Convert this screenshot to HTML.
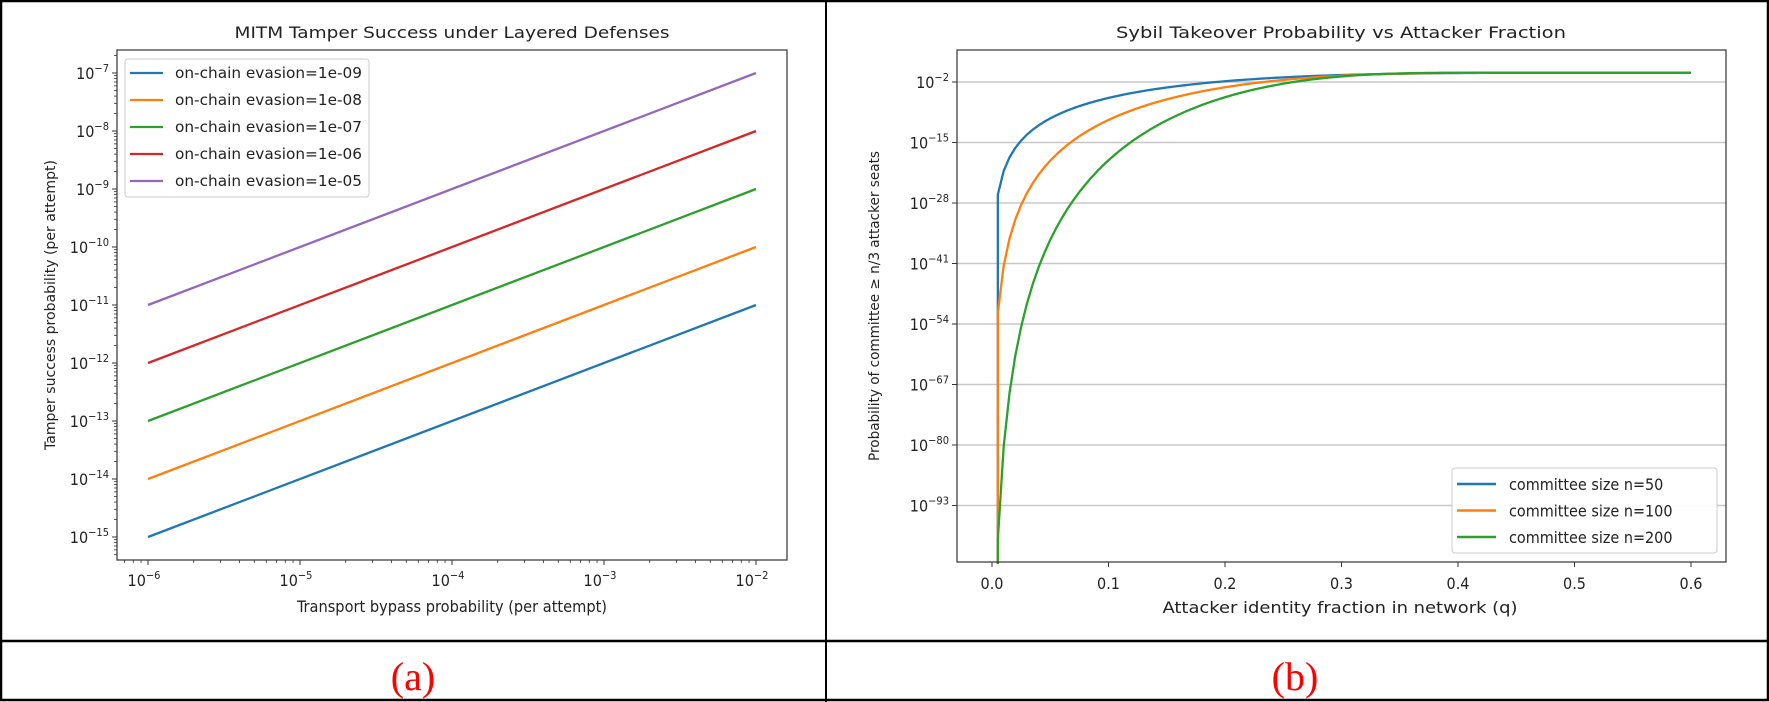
<!DOCTYPE html>
<html><head><meta charset="utf-8">
<style>
html,body{margin:0;padding:0;background:#fff;}
svg{display:block;}
text{font-family:"DejaVu Sans","Liberation Sans",sans-serif;fill:#222;}
.t{font-size:16px;}
.tk{font-size:16px;font-family:"Liberation Sans Narrow","DejaVu Sans Condensed","Liberation Sans",sans-serif;}
.lg{font-size:15px;font-family:"Liberation Sans Narrow","DejaVu Sans Condensed","Liberation Sans",sans-serif;}
.yl{font-size:14px;}
</style></head>
<body>
<svg id="s" width="1769" height="702" viewBox="0 0 1769 702" xmlns="http://www.w3.org/2000/svg">
<rect x="0" y="0" width="1769" height="702" fill="#fff"/>
<rect x="1" y="1" width="1767" height="699" fill="none" stroke="#000" stroke-width="2.5"/>
<line x1="826" y1="0" x2="826" y2="702" stroke="#000" stroke-width="2"/>
<line x1="0" y1="641" x2="1769" y2="641" stroke="#000" stroke-width="2.5"/>
<text x="413" y="690" text-anchor="middle" style="font-family:'Liberation Serif',serif;font-size:40px;fill:#f00">(a)</text>
<text x="1295" y="690" text-anchor="middle" style="font-family:'Liberation Serif',serif;font-size:40px;fill:#f00">(b)</text>

<text class="t" x="452" y="38" text-anchor="middle" textLength="435" lengthAdjust="spacingAndGlyphs">MITM Tamper Success under Layered Defenses</text>
<text class="tk" x="452" y="612" text-anchor="middle" textLength="310" lengthAdjust="spacingAndGlyphs">Transport bypass probability (per attempt)</text>
<text class="yl" transform="translate(55,305) rotate(-90)" text-anchor="middle" textLength="290" lengthAdjust="spacingAndGlyphs">Tamper success probability (per attempt)</text>

<text class="t" x="1341" y="38" text-anchor="middle" textLength="450" lengthAdjust="spacingAndGlyphs">Sybil Takeover Probability vs Attacker Fraction</text>
<text class="tk" x="1340" y="613" text-anchor="middle" textLength="355" lengthAdjust="spacingAndGlyphs">Attacker identity fraction in network (q)</text>
<text class="yl" transform="translate(879,306) rotate(-90)" text-anchor="middle" textLength="310" lengthAdjust="spacingAndGlyphs">Probability of committee ≥ n/3 attacker seats</text>

<g id="L"></g>
<g id="R"></g>
</svg>
<script>
var NS="http://www.w3.org/2000/svg";
function el(p,tag,a,txt){var e=document.createElementNS(NS,tag);for(var k in a)e.setAttribute(k,a[k]);if(txt!==undefined)e.textContent=txt;p.appendChild(e);return e;}
function sup(p,x,y,anchor,base,exp){
  var t=el(p,"text",{x:x,y:y,"text-anchor":anchor,"class":"tk"});
  var a=document.createElementNS(NS,"tspan");a.textContent=base;t.appendChild(a);
  var b=document.createElementNS(NS,"tspan");b.setAttribute("dy","-7");b.setAttribute("font-size","11");b.textContent=exp;t.appendChild(b);
  return t;
}
var C=["#1f77b4","#ff7f0e","#2ca02c","#d62728","#9467bd"];
var L=document.getElementById("L");
var lx0=117,lx1=787,ly0=50,ly1=560;
function LX(lg){return 148+(lg+6)*152;}
function LY(lg){return 73+(-7-lg)*58;}
for(var i=0;i<5;i++){
  var e=-9+i;
  el(L,"line",{x1:LX(-6),y1:LY(-6+e),x2:LX(-2),y2:LY(-2+e),stroke:C[i],"stroke-width":2.3});
}
el(L,"rect",{x:lx0,y:ly0,width:lx1-lx0,height:ly1-ly0,fill:"none",stroke:"#333","stroke-width":1.2});
for(var d=-6;d<=-2;d++){
  el(L,"line",{x1:LX(d),y1:ly1,x2:LX(d),y2:ly1+5,stroke:"#333","stroke-width":1});
  sup(L,LX(d)-4,ly1+26,"middle","10","−"+(-d));
}
for(var d=-7;d<=-2;d++)for(var m=2;m<=9;m++){var x=LX(d+Math.log10(m));if(x>lx0&&x<lx1)el(L,"line",{x1:x,y1:ly1,x2:x,y2:ly1+3,stroke:"#333","stroke-width":0.8});}
for(var d=-15;d<=-7;d++){
  el(L,"line",{x1:lx0-5,y1:LY(d),x2:lx0,y2:LY(d),stroke:"#333","stroke-width":1});
  sup(L,lx0-8,LY(d)+6,"end","10","−"+(-d));
}
for(var d=-16;d<=-6;d++)for(var m=2;m<=9;m++){var y=LY(d+Math.log10(m));if(y>ly0&&y<ly1)el(L,"line",{x1:lx0-3,y1:y,x2:lx0,y2:y,stroke:"#333","stroke-width":0.8});}
el(L,"rect",{x:125,y:59,width:244,height:138,rx:3,fill:"#fff",stroke:"#ccc"});
var labs=["1e-09","1e-08","1e-07","1e-06","1e-05"];
for(var i=0;i<5;i++){var y=73+i*27;
  el(L,"line",{x1:130,y1:y,x2:163,y2:y,stroke:C[i],"stroke-width":2.3});
  el(L,"text",{x:175,y:y+5,"class":"lg",textLength:187,lengthAdjust:"spacingAndGlyphs"},"on-chain evasion="+labs[i]);
}
var R=document.getElementById("R");
var rx0=957,rx1=1726,ry0=50,ry1=562;
function RX(q){return 992+q*1165;}
function RY(lg){return 82+(-2-lg)*60.5/13;}
var yt=[-2,-15,-28,-41,-54,-67,-80,-93];
yt.forEach(function(v){el(R,"line",{x1:rx0,y1:RY(v),x2:rx1,y2:RY(v),stroke:"#c8c8c8","stroke-width":1.5});});
function lgam(x){
  var g=7,c=[0.99999999999980993,676.5203681218851,-1259.1392167224028,771.32342877765313,-176.61503916999185,12.507343278686905,-0.13857109526572012,9.9843695780195716e-6,1.5056327351493116e-7];
  if(x<0.5)return Math.log(Math.PI/Math.sin(Math.PI*x))-lgam(1-x);
  x-=1;var a=c[0];var t=x+g+0.5;for(var i=1;i<9;i++)a+=c[i]/(x+i);
  return 0.5*Math.log(2*Math.PI)+(x+0.5)*Math.log(t)-t+Math.log(a);
}
function tail(n,q){var k=Math.ceil(n/3);var terms=[];
  for(var j=k;j<=n;j++){terms.push(lgam(n+1)-lgam(j+1)-lgam(n-j+1)+j*Math.log(q)+(n-j)*Math.log(1-q));}
  var m=Math.max.apply(null,terms);var s=0;terms.forEach(function(t){s+=Math.exp(t-m);});
  return (m+Math.log(s))/Math.LN10;}
[50,100,200].forEach(function(n,i){
  var pts=[];
  pts.push(RX(0.005).toFixed(2)+","+(ry1+2));
  for(var s=1;s<=120;s++){var q=s*0.005;var lg=tail(n,q);var y=RY(lg);if(y>ry1+2)y=ry1+2;pts.push(RX(q).toFixed(2)+","+y.toFixed(2));}
  el(R,"polyline",{points:pts.join(" "),fill:"none",stroke:C[i],"stroke-width":2.3,"stroke-linejoin":"round"});
});
el(R,"rect",{x:rx0,y:ry0,width:rx1-rx0,height:ry1-ry0,fill:"none",stroke:"#333","stroke-width":1.2});
for(var k=0;k<=6;k++){var x=RX(k/10);
  el(R,"line",{x1:x,y1:ry1,x2:x,y2:ry1+5,stroke:"#333","stroke-width":1});
  el(R,"text",{x:x,y:ry1+27,"text-anchor":"middle","class":"tk"},(k/10).toFixed(1));}
yt.forEach(function(v){
  el(R,"line",{x1:rx0-5,y1:RY(v),x2:rx0,y2:RY(v),stroke:"#333","stroke-width":1});
  sup(R,rx0-8,RY(v)+6,"end","10","−"+(-v));
});
el(R,"rect",{x:1452,y:468,width:265,height:85,rx:3,fill:"#fff","fill-opacity":0.9,stroke:"#ccc"});
["committee size n=50","committee size n=100","committee size n=200"].forEach(function(s,i){var y=484+i*26.5;
  el(R,"line",{x1:1457,y1:y,x2:1496,y2:y,stroke:C[i],"stroke-width":2.5});
  el(R,"text",{x:1509,y:y+6,"class":"tk"},s);});
</script>
</body></html>
